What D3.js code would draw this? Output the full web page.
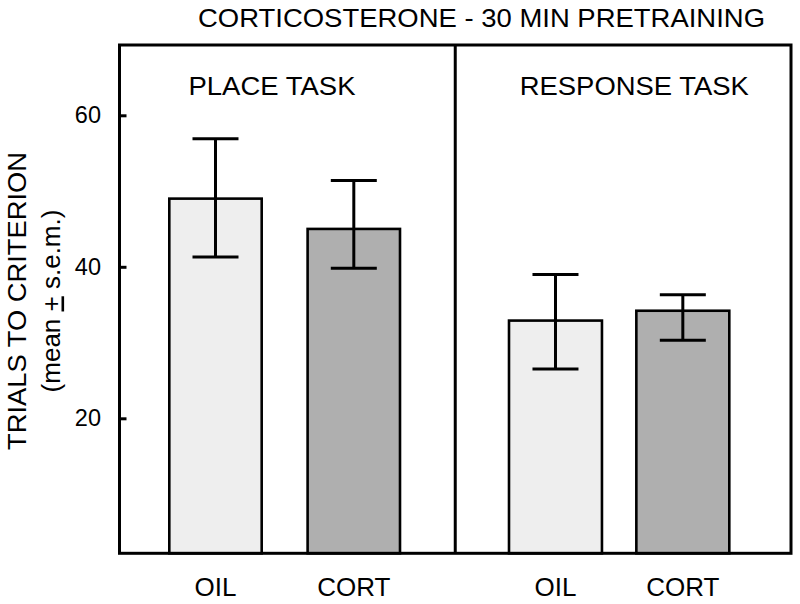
<!DOCTYPE html>
<html>
<head>
<meta charset="utf-8">
<script src="https://cdn.jsdelivr.net/npm/d3@7"></script>
<style>
  html, body { margin: 0; padding: 0; background: #fff; }
  svg { display: block; font-family: "Liberation Sans", Arial, Helvetica, sans-serif; }
</style>
</head>
<body>
<svg id="chart" width="800" height="604"></svg>
<script>
// ---- data ----
const tasks = ["PLACE TASK", "RESPONSE TASK"];
const treatments = ["OIL", "CORT"];
const meanOil  = [49.0, 32.9];
const meanCort = [45.0, 34.2];
const errHighOil  = [56.9, 39.0];
const errLowOil   = [41.3, 26.5];
const errHighCort = [51.4, 36.3];
const errLowCort  = [39.8, 30.3];
const yTicks = [20, 40, 60];
const titleText = "CORTICOSTERONE - 30 MIN PRETRAINING";
const yLabel1 = "TRIALS TO CRITERION";

(function () {
// build rows
const rows = [];
tasks.forEach((t, i) => {
  rows.push({task: t, trt: "OIL",  mean: meanOil[i],  hi: errHighOil[i],  lo: errLowOil[i]});
  rows.push({task: t, trt: "CORT", mean: meanCort[i], hi: errHighCort[i], lo: errLowCort[i]});
});

// ---- layout ----
const svg = d3.select("#chart");
const pL = 119.5, pR = 791, pT = 45, pB = 553.3;
const fills = {OIL: "#eeeeee", CORT: "#afafaf"};

const y = d3.scaleLinear().domain([20, 60]).range([418.3, 115.3]);

const xPanel = d3.scaleBand().domain(tasks).range([pL, pR]).paddingInner(0).paddingOuter(0);
const innerCfg = {
  "PLACE TASK":    {range: [169.3, 400.0], pad: 0.332, labelDx: 69},
  "RESPONSE TASK": {range: [509.0, 729.3], pad: 0.27,  labelDx: 64.5}
};
const xInner = {};
tasks.forEach(t => {
  xInner[t] = d3.scaleBand().domain(treatments).range(innerCfg[t].range)
    .paddingInner(innerCfg[t].pad).paddingOuter(0);
});
const bx = d => xInner[d.task](d.trt);
const bw = d => xInner[d.task].bandwidth();
const cx = d => bx(d) + bw(d) / 2;

// bars
svg.append("g").selectAll("rect").data(rows).join("rect")
  .attr("x", bx)
  .attr("width", bw)
  .attr("y", d => y(d.mean))
  .attr("height", d => pB - y(d.mean))
  .attr("fill", d => fills[d.trt])
  .attr("stroke", "#000")
  .attr("stroke-width", 2.6);

// error bars
const capW = 46;
const eg = svg.append("g").attr("stroke", "#000").attr("stroke-width", 3);
eg.selectAll("line.v").data(rows).join("line").attr("class", "v")
  .attr("x1", cx).attr("x2", cx)
  .attr("y1", d => y(d.hi)).attr("y2", d => y(d.lo));
eg.selectAll("line.h").data(rows).join("line").attr("class", "h")
  .attr("x1", d => cx(d) - capW / 2).attr("x2", d => cx(d) + capW / 2)
  .attr("y1", d => y(d.hi)).attr("y2", d => y(d.hi));
eg.selectAll("line.l").data(rows).join("line").attr("class", "l")
  .attr("x1", d => cx(d) - capW / 2).attr("x2", d => cx(d) + capW / 2)
  .attr("y1", d => y(d.lo)).attr("y2", d => y(d.lo));

// frame
svg.append("rect")
  .attr("x", pL).attr("y", pT)
  .attr("width", pR - pL).attr("height", pB - pT)
  .attr("fill", "none").attr("stroke", "#000").attr("stroke-width", 3);
// divider
svg.append("line")
  .attr("x1", xPanel("RESPONSE TASK")).attr("x2", xPanel("RESPONSE TASK"))
  .attr("y1", pT).attr("y2", pB)
  .attr("stroke", "#000").attr("stroke-width", 3);

// y axis
const yAxis = d3.axisLeft(y).tickValues(yTicks).tickSize(-7).tickPadding(18.5);
const ga = svg.append("g").attr("transform", `translate(${pL},0)`).call(yAxis);
ga.select(".domain").remove();
ga.selectAll(".tick line").attr("stroke", "#000").attr("stroke-width", 3);
ga.selectAll(".tick text")
  .attr("fill", "#000")
  .style("font-size", "23.5px")
  .style("font-family", "'Liberation Sans', Arial, sans-serif");

// category labels
svg.append("g").selectAll("text").data(rows).join("text")
  .attr("x", cx)
  .attr("y", 595.7)
  .attr("text-anchor", "middle")
  .style("font-size", "26px")
  .text(d => d.trt);

// panel labels
svg.append("g").selectAll("text").data(tasks).join("text")
  .attr("x", t => xPanel(t) + innerCfg[t].labelDx)
  .attr("y", 95)
  .style("font-size", "26px")
  .attr("textLength", t => t === "PLACE TASK" ? 167 : 229)
  .attr("lengthAdjust", "spacingAndGlyphs")
  .text(t => t);

// title
svg.append("text")
  .attr("x", 198).attr("y", 27)
  .style("font-size", "26px")
  .attr("textLength", 567)
  .attr("lengthAdjust", "spacingAndGlyphs")
  .text(titleText);

// y labels
svg.append("text")
  .attr("transform", "translate(25.5,301) rotate(-90)")
  .attr("text-anchor", "middle")
  .style("font-size", "26px")
  .attr("textLength", 298)
  .attr("lengthAdjust", "spacingAndGlyphs")
  .text(yLabel1);

const yl2 = svg.append("text")
  .attr("transform", "translate(59.5,301) rotate(-90)")
  .attr("text-anchor", "middle")
  .style("font-size", "26px");
yl2.append("tspan").text("(mean ");
yl2.append("tspan").style("text-decoration", "underline").text("+");
yl2.append("tspan").text(" s.e.m.)");
})();
</script>
</body>
</html>
